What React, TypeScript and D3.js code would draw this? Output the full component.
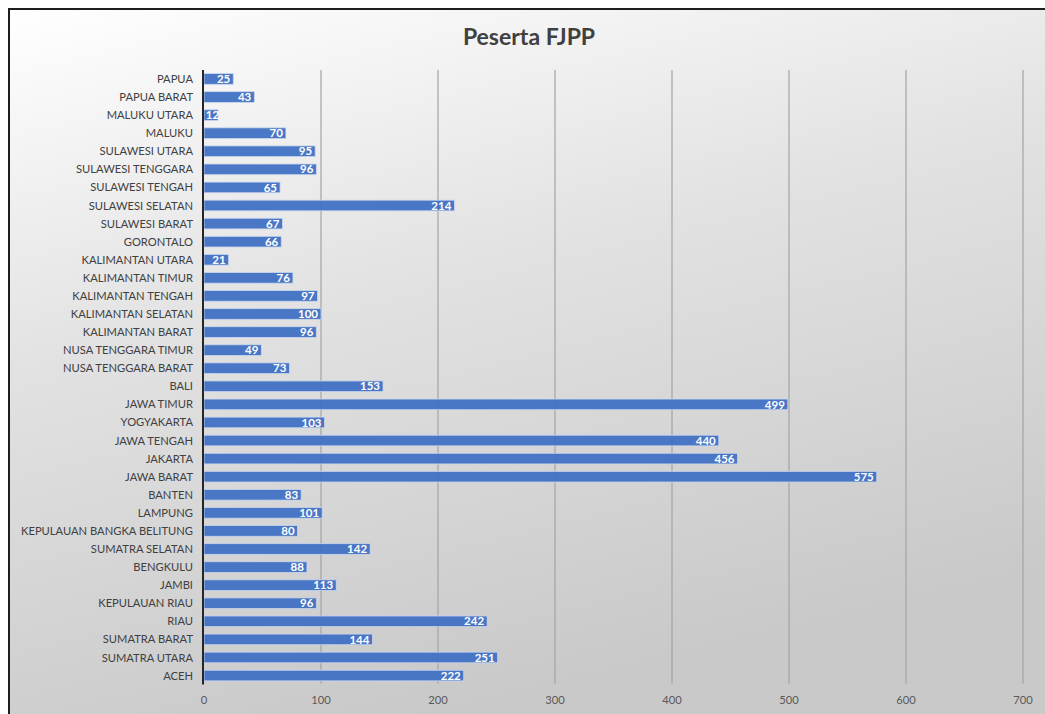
import React from "react";
import * as d3 from "d3";

const provinces = [
  "PAPUA", "PAPUA BARAT", "MALUKU UTARA", "MALUKU", "SULAWESI UTARA",
  "SULAWESI TENGGARA", "SULAWESI TENGAH", "SULAWESI SELATAN", "SULAWESI BARAT",
  "GORONTALO", "KALIMANTAN UTARA", "KALIMANTAN TIMUR", "KALIMANTAN TENGAH",
  "KALIMANTAN SELATAN", "KALIMANTAN BARAT", "NUSA TENGGARA TIMUR",
  "NUSA TENGGARA BARAT", "BALI", "JAWA TIMUR", "YOGYAKARTA", "JAWA TENGAH",
  "JAKARTA", "JAWA BARAT", "BANTEN", "LAMPUNG", "KEPULAUAN BANGKA BELITUNG",
  "SUMATRA SELATAN", "BENGKULU", "JAMBI", "KEPULAUAN RIAU", "RIAU",
  "SUMATRA BARAT", "SUMATRA UTARA", "ACEH",
];

const participants = [
  25, 43, 12, 70, 95, 96, 65, 214, 67, 66, 21, 76, 97, 100, 96, 49, 73, 153,
  499, 103, 440, 456, 575, 83, 101, 80, 142, 88, 113, 96, 242, 144, 251, 222,
];

const xTicks = [0, 100, 200, 300, 400, 500, 600, 700];

const title = "Peserta FJPP";

const W = 1045;
const H = 714;
const plot = { left: 204, right: 1023, top: 70, bottom: 684.5 };
const font = "Lato, 'Open Sans', sans-serif";

export default function App() {
  const x = d3.scaleLinear().domain([0, 700]).range([plot.left, plot.right]);
  const y = d3
    .scaleBand<string>()
    .domain(provinces)
    .range([plot.top, plot.bottom])
    .paddingInner(0.41)
    .paddingOuter(0.2);

  const rows = provinces.map((p, i) => ({ name: p, value: participants[i] }));

  return (
    <svg
      width={W}
      height={H}
      style={{ position: "absolute", left: 0, top: 0, display: "block" }}
      fontFamily={font}
    >
      <defs>
        <linearGradient id="bg" x1="0" y1="0" x2="0.35" y2="1">
          <stop offset="0" stopColor="#ffffff" />
          <stop offset="0.45" stopColor="#e2e2e2" />
          <stop offset="1" stopColor="#c9c9c9" />
        </linearGradient>
      </defs>
      <rect x={0} y={0} width={W} height={H} fill="#ffffff" />
      <rect x={9} y={9} width={W} height={H} fill="url(#bg)" stroke="#1e1e1e" strokeWidth={2} />

      <text
        x={529}
        y={45}
        textAnchor="middle"
        fontSize={23}
        fontWeight={700}
        fill="#404040"
      >
        {title}
      </text>

      {/* vertical gridlines */}
      {xTicks.slice(1).map((t) => (
        <line
          key={t}
          x1={x(t)}
          x2={x(t)}
          y1={plot.top}
          y2={plot.bottom - 1}
          stroke="#a3a3a3"
          strokeWidth={1.2}
        />
      ))}

      {/* bars */}
      {rows.map((r) => (
        <rect
          key={r.name}
          x={x(0)}
          y={y(r.name)!}
          width={x(r.value) - x(0)}
          height={y.bandwidth()}
          fill="#4472c4"
          fillOpacity={0.96}
          stroke="#c9d6ee"
          strokeWidth={0.8}
        />
      ))}

      {/* value labels */}
      {rows.map((r) => {
        const label = String(r.value);
        const textW = label.length * 6.6;
        const tx = Math.max(x(r.value) - 3, x(0) + 2 + textW);
        return (
          <text
            key={r.name}
            x={tx}
            y={y(r.name)! + y.bandwidth() / 2}
            dy="0.36em"
            textAnchor="end"
            fontSize={11.5}
            fontWeight={700}
            fill="#ffffff"
          >
            {label}
          </text>
        );
      })}

      {/* category axis */}
      <line
        x1={x(0) - 1}
        x2={x(0) - 1}
        y1={plot.top}
        y2={plot.bottom}
        stroke="#262626"
        strokeWidth={2}
      />
      {rows.map((r) => (
        <text
          key={r.name}
          x={193}
          y={y(r.name)! + y.bandwidth() / 2}
          dy="0.36em"
          textAnchor="end"
          fontSize={11.2}
          fill="#404040"
        >
          {r.name}
        </text>
      ))}

      {/* value axis ticks */}
      {xTicks.map((t) => (
        <text
          key={t}
          x={x(t)}
          y={704}
          textAnchor="middle"
          fontSize={11.2}
          fill="#595959"
        >
          {t}
        </text>
      ))}
    </svg>
  );
}
